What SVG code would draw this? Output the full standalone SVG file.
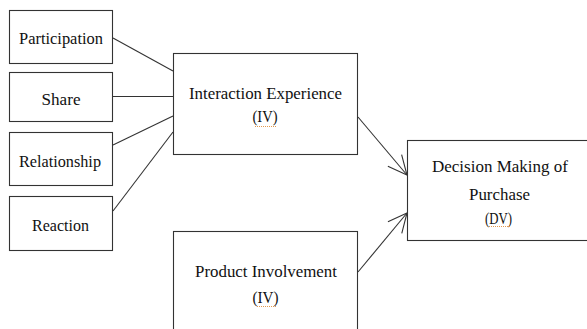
<svg xmlns="http://www.w3.org/2000/svg" width="587" height="329" viewBox="0 0 587 329">
<style>
.box{fill:#fff;stroke:#333;stroke-width:1.1}
.ln{stroke:#333;stroke-width:1.1;fill:none}
.sq{stroke:#e39a4f;stroke-width:1;stroke-dasharray:1 1;fill:none}
</style>
<defs>
<marker id="arr" markerUnits="userSpaceOnUse" markerWidth="30" markerHeight="30" viewBox="-25 -15 30 30" refX="0" refY="0" orient="auto" overflow="visible">
<path d="M-19,-9 L0,0 L-19,9" fill="none" stroke="#333" stroke-width="1.1"/>
</marker>
</defs>
<g id="connectors">
<line class="ln" x1="113" y1="38" x2="173" y2="71"/>
<line class="ln" x1="113" y1="96.5" x2="173" y2="96.5"/>
<line class="ln" x1="113" y1="145" x2="173" y2="116"/>
<line class="ln" x1="113" y1="211" x2="173" y2="132"/>
<line class="ln" x1="358" y1="117" x2="407" y2="175" marker-end="url(#arr)"/>
<line class="ln" x1="358" y1="272" x2="407" y2="213" marker-end="url(#arr)"/>
</g>
<g font-family="Liberation Serif, DejaVu Serif, Times New Roman, serif" font-size="16.5" fill="#111" text-anchor="middle">
<g id="participation">
<rect class="box" x="9.5" y="10.5" width="103" height="53"/>
<text x="61" y="44" textLength="84" lengthAdjust="spacingAndGlyphs">Participation</text>
</g>
<g id="share">
<rect class="box" x="9.5" y="72.5" width="103" height="49"/>
<text x="61" y="105" textLength="39" lengthAdjust="spacingAndGlyphs">Share</text>
</g>
<g id="relationship">
<rect class="box" x="9.5" y="132.5" width="103" height="53"/>
<text x="60" y="167" textLength="82" lengthAdjust="spacingAndGlyphs">Relationship</text>
</g>
<g id="reaction">
<rect class="box" x="9.5" y="196.5" width="103" height="54"/>
<text x="60.5" y="231" textLength="57" lengthAdjust="spacingAndGlyphs">Reaction</text>
</g>
<g id="interaction">
<rect class="box" x="173.5" y="53.5" width="184" height="101"/>
<text x="265.5" y="99" textLength="153" lengthAdjust="spacingAndGlyphs">Interaction  Experience</text>
<text x="265" y="122" textLength="25" lengthAdjust="spacingAndGlyphs">(IV)</text>
<line class="sq" x1="255" y1="126.5" x2="276" y2="126.5"/>
</g>
<g id="decision">
<rect class="box" x="407.5" y="140.5" width="200" height="100"/>
<text x="500" y="171.5" textLength="136" lengthAdjust="spacingAndGlyphs">Decision Making of</text>
<text x="499.5" y="200" textLength="61" lengthAdjust="spacingAndGlyphs">Purchase</text>
<text x="498.5" y="224" textLength="27" lengthAdjust="spacingAndGlyphs">(DV)</text>
<line class="sq" x1="487" y1="226.5" x2="511" y2="226.5"/>
</g>
<g id="product">
<rect class="box" x="173.5" y="231.5" width="184" height="120"/>
<text x="266" y="276.5" textLength="142" lengthAdjust="spacingAndGlyphs">Product  Involvement</text>
<text x="265.5" y="303" textLength="26" lengthAdjust="spacingAndGlyphs">(IV)</text>
<line class="sq" x1="257" y1="306.5" x2="277" y2="306.5"/>
</g>
</g>
</svg>
